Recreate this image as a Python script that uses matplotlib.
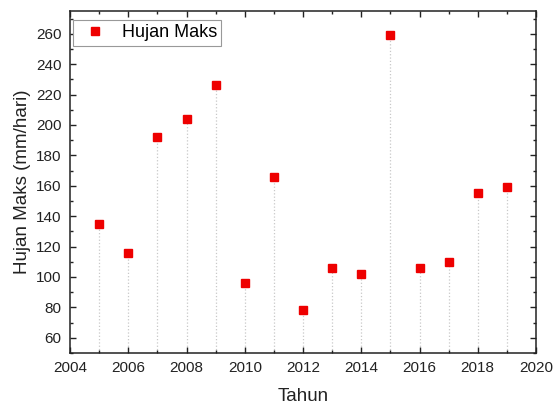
import matplotlib
matplotlib.use('Agg')
import matplotlib.pyplot as plt
from matplotlib.ticker import MultipleLocator

plt.rcParams['font.family'] = ['Liberation Sans', 'DejaVu Sans']

years = [2005, 2006, 2007, 2008, 2009, 2010, 2011, 2012, 2013, 2014,
         2015, 2016, 2017, 2018, 2019]
hujan_maks = [135, 116, 192, 204, 226, 96, 166, 78, 106, 102,
              259, 106, 110, 155, 159]


def main():
    fig = plt.figure(figsize=(5.56, 4.07), dpi=100)
    ax = fig.add_axes([0.126, 0.1327, 0.838, 0.8403])

    ymin = 50
    ax.vlines(years, ymin, hujan_maks, colors='#c8c8c8', linestyles=':', linewidth=0.9, zorder=1)
    ax.plot(years, hujan_maks, linestyle='none', marker='s', markersize=6.2,
            color='#ee0000', label='Hujan Maks', zorder=3)

    ax.set_xlim(2004, 2020)
    ax.set_ylim(ymin, 275)
    ax.xaxis.set_major_locator(MultipleLocator(2))
    ax.xaxis.set_minor_locator(MultipleLocator(1))
    ax.yaxis.set_minor_locator(MultipleLocator(10))
    ax.set_yticks(range(60, 261, 20))
    ax.tick_params(which='both', direction='in', top=True, right=True, labelsize=11,
                   colors='#222222', width=1)
    ax.tick_params(which='major', length=4, pad=6)
    ax.tick_params(which='minor', length=2)
    for side in ax.spines.values():
        side.set_linewidth(1.1)
        side.set_color('#222222')

    ax.set_xlabel('Tahun', fontsize=13.5, color='#222222', labelpad=9)
    ax.set_ylabel('Hujan Maks (mm/hari)', fontsize=13.5, color='#222222', labelpad=4)

    leg = ax.legend(loc='upper left', bbox_to_anchor=(0.006, 0.974), fontsize=13,
                    fancybox=False, framealpha=1, edgecolor='#999999',
                    handlelength=2.0, borderpad=0.25, borderaxespad=0,
                    handletextpad=0.45)
    leg.get_frame().set_linewidth(0.8)

    fig.savefig('out.png', dpi=100)
    plt.close(fig)


if __name__ == '__main__':
    main()
